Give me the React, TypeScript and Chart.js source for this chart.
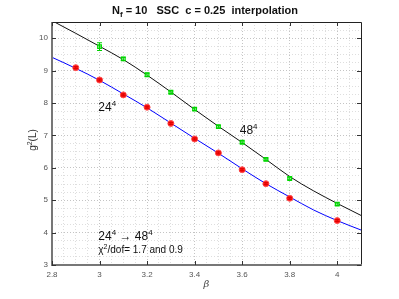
import React, { useEffect, useRef } from 'react';
import { Chart, registerables } from 'chart.js';
Chart.register(...registerables);

const betaRed = [2.9, 3.0, 3.1, 3.2, 3.3, 3.4, 3.5, 3.6, 3.7, 3.8, 4.0];
const g2Red = [9.09, 8.71, 8.25, 7.87, 7.37, 6.89, 6.46, 5.94, 5.51, 5.06, 4.37];
const errRed = [0.03, 0.03, 0.03, 0.03, 0.03, 0.03, 0.03, 0.03, 0.03, 0.03, 0.03];

const betaGreen = [3.0, 3.1, 3.2, 3.3, 3.4, 3.5, 3.6, 3.7, 3.8, 4.0];
const g2Green = [9.74, 9.36, 8.87, 8.33, 7.81, 7.27, 6.79, 6.26, 5.67, 4.88];
const errGreen = [0.12, 0.05, 0.05, 0.04, 0.04, 0.04, 0.04, 0.04, 0.04, 0.04];

const betaFit = [2.8, 2.9, 3.0, 3.1, 3.2, 3.3, 3.4, 3.5, 3.6, 3.7, 3.8, 3.9, 4.0, 4.1];
const fit24 = [9.41, 9.07, 8.7, 8.28, 7.85, 7.38, 6.91, 6.45, 5.97, 5.51, 5.1, 4.7, 4.37, 4.08];
const fit48 = [10.54, 10.15, 9.75, 9.34, 8.86, 8.34, 7.8, 7.28, 6.78, 6.26, 5.73, 5.29, 4.9, 4.53];

const xMajor = [2.8, 3.0, 3.2, 3.4, 3.6, 3.8, 4.0];
const yMajor = [3, 4, 5, 6, 7, 8, 9, 10];

const FONT = '"Liberation Sans", Arial, Helvetica, sans-serif';

type Part = { t: string; sup?: boolean; sub?: boolean };

function drawRich(ctx: CanvasRenderingContext2D, parts: Part[], x: number, y: number, size: number, weight: string, align: 'left' | 'center') {
  const small = Math.round(size * 0.7);
  const widths = parts.map((p) => {
    ctx.font = `${weight} ${p.sup || p.sub ? small : size}px ${FONT}`;
    return ctx.measureText(p.t).width;
  });
  const total = widths.reduce((a, b) => a + b, 0);
  let cx = align === 'center' ? x - total / 2 : x;
  ctx.textAlign = 'left';
  ctx.textBaseline = 'alphabetic';
  parts.forEach((p, i) => {
    ctx.font = `${weight} ${p.sup || p.sub ? small : size}px ${FONT}`;
    let dy = 0;
    if (p.sup) dy = -size * 0.45;
    if (p.sub) dy = size * 0.3;
    ctx.fillText(p.t, cx, y + dy);
    cx += widths[i];
  });
}

const isXMajor = (n: number) => Math.abs(n * 5 - Math.round(n * 5)) < 1e-6 && n < 4.05;
const isYMajor = (n: number) => Math.abs(n - Math.round(n)) < 1e-6;

const decorPlugin = {
  id: 'decor',
  afterDatasetsDraw(chart: any) {
    const ctx: CanvasRenderingContext2D = chart.ctx;
    const ys = chart.scales.y;
    chart.data.datasets.forEach((ds: any, di: number) => {
      if (!ds.errors) return;
      const meta = chart.getDatasetMeta(di);
      ctx.save();
      ctx.strokeStyle = ds.errColor;
      ctx.lineWidth = 1;
      meta.data.forEach((pt: any, i: number) => {
        const v = ds.data[i].y;
        const e = ds.errors[i];
        const yt = ys.getPixelForValue(v + e);
        const yb = ys.getPixelForValue(v - e);
        ctx.beginPath();
        ctx.moveTo(pt.x, yt);
        ctx.lineTo(pt.x, yb);
        ctx.moveTo(pt.x - 2.5, yt);
        ctx.lineTo(pt.x + 2.5, yt);
        ctx.moveTo(pt.x - 2.5, yb);
        ctx.lineTo(pt.x + 2.5, yb);
        ctx.stroke();
      });
      ctx.restore();
    });
  },
  afterDraw(chart: any) {
    const ctx: CanvasRenderingContext2D = chart.ctx;
    const xs = chart.scales.x;
    const ys = chart.scales.y;
    const { left, right, top, bottom } = chart.chartArea;
    ctx.save();
    ctx.strokeStyle = '#222';
    ctx.lineWidth = 1;
    ctx.beginPath();
    ctx.moveTo(left, top + 0.5);
    ctx.lineTo(right + 0.5, top + 0.5);
    ctx.lineTo(right + 0.5, bottom);
    ctx.stroke();
    ctx.strokeStyle = '#777';
    ctx.lineWidth = 2;
    ctx.beginPath();
    ctx.moveTo(left, top);
    ctx.lineTo(left, bottom);
    ctx.lineTo(right + 1, bottom);
    ctx.stroke();
    ctx.strokeStyle = '#333';
    ctx.lineWidth = 1;
    ctx.beginPath();
    xMajor.forEach((v) => {
      const px = Math.round(xs.getPixelForValue(v)) + 0.5;
      ctx.moveTo(px, bottom);
      ctx.lineTo(px, bottom - 4);
      ctx.moveTo(px, top);
      ctx.lineTo(px, top + 4);
    });
    yMajor.forEach((v) => {
      const py = Math.round(ys.getPixelForValue(v)) + 0.5;
      ctx.moveTo(left, py);
      ctx.lineTo(left + 4, py);
      ctx.moveTo(right, py);
      ctx.lineTo(right - 4, py);
    });
    ctx.stroke();

    ctx.fillStyle = '#111';
    drawRich(ctx, [{ t: 'N' }, { t: 'f', sub: true }, { t: ' = 10   SSC  c = 0.25  interpolation' }], 205, 14, 11, 'bold', 'center');

    ctx.save();
    ctx.translate(36, 140);
    ctx.rotate(-Math.PI / 2);
    ctx.fillStyle = '#333';
    drawRich(ctx, [{ t: 'g' }, { t: '2', sup: true }, { t: '(L)' }], 0, 0, 10, 'normal', 'center');
    ctx.restore();

    ctx.fillStyle = '#444';
    ctx.font = `italic 10px "DejaVu Serif", serif`;
    ctx.textAlign = 'center';
    ctx.textBaseline = 'alphabetic';
    ctx.fillText('β', (left + right) / 2, 287);

    ctx.fillStyle = '#111';
    drawRich(ctx, [{ t: '24' }, { t: '4', sup: true }], xs.getPixelForValue(2.995), ys.getPixelForValue(7.74), 12, 'normal', 'left');
    drawRich(ctx, [{ t: '48' }, { t: '4', sup: true }], xs.getPixelForValue(3.59), ys.getPixelForValue(7.03), 12, 'normal', 'left');
    drawRich(ctx, [{ t: '24' }, { t: '4', sup: true }, { t: ' \u2192 48' }, { t: '4', sup: true }], xs.getPixelForValue(2.995), ys.getPixelForValue(3.76), 12, 'normal', 'left');
    drawRich(ctx, [{ t: 'χ' }, { t: '2', sup: true }, { t: '/dof= 1.7 and 0.9' }], xs.getPixelForValue(2.995), ys.getPixelForValue(3.37), 10, 'normal', 'left');
    ctx.restore();
  },
};

export default function App() {
  const ref = useRef<HTMLCanvasElement | null>(null);
  useEffect(() => {
    document.body.style.margin = '0';
    const canvas = ref.current;
    if (!canvas) return;
    const chart = new Chart(canvas, {
      type: 'scatter',
      data: {
        datasets: [
          {
            type: 'scatter',
            label: '24^4',
            data: betaRed.map((b, i) => ({ x: b, y: g2Red[i] })),
            errors: errRed,
            errColor: '#dd0000',
            pointStyle: 'circle',
            pointRadius: 3,
            backgroundColor: '#ff1a1a',
            borderColor: '#ff5050',
            borderWidth: 1,
          } as any,
          {
            type: 'scatter',
            label: '48^4',
            data: betaGreen.map((b, i) => ({ x: b, y: g2Green[i] })),
            errors: errGreen,
            errColor: '#00d000',
            pointStyle: 'rect',
            pointRadius: 2.6,
            backgroundColor: 'rgba(170,255,170,0.6)',
            borderColor: '#00e000',
            borderWidth: 1.2,
          } as any,
          {
            type: 'line',
            label: 'fit24',
            data: betaFit.map((b, i) => ({ x: b, y: fit24[i] })),
            borderColor: '#0000ff',
            borderWidth: 1,
            pointRadius: 0,
            cubicInterpolationMode: 'monotone',
            fill: false,
          } as any,
          {
            type: 'line',
            label: 'fit48',
            data: betaFit.map((b, i) => ({ x: b, y: fit48[i] })),
            borderColor: '#111111',
            borderWidth: 1,
            pointRadius: 0,
            cubicInterpolationMode: 'monotone',
            fill: false,
          } as any,
        ],
      },
      options: {
        animation: false,
        responsive: false,
        events: [],
        layout: { padding: { left: 0, right: 38, top: 22, bottom: 0 } },
        plugins: { legend: { display: false }, tooltip: { enabled: false }, title: { display: false } },
        scales: {
          x: {
            type: 'linear',
            min: 2.8,
            max: 4.1,
            afterFit: (s: any) => {
              s.height = 34;
            },
            border: { display: false, dash: [1, 2] },
            grid: {
              color: (c: any) => (c.tick && isXMajor(Number(c.tick.value)) ? '#c4c4c4' : '#dedede'),
              lineWidth: 1,
              drawTicks: false,
            },
            ticks: {
              stepSize: 0.05,
              padding: 5,
              autoSkip: false,
              maxRotation: 0,
              color: '#555',
              font: { size: 8, family: FONT },
              callback: (v: any) => {
                const n = Number(v);
                return isXMajor(n) ? String(Math.round(n * 10) / 10) : '';
              },
            },
          },
          y: {
            type: 'linear',
            min: 3,
            max: 10.5,
            afterFit: (s: any) => {
              s.width = 52;
            },
            border: { display: false, dash: [1, 2] },
            grid: {
              color: (c: any) => (c.tick && isYMajor(Number(c.tick.value)) ? '#c4c4c4' : '#dedede'),
              lineWidth: 1,
              drawTicks: false,
            },
            ticks: {
              stepSize: 0.25,
              padding: 4,
              autoSkip: false,
              color: '#555',
              font: { size: 8, family: FONT },
              callback: (v: any) => {
                const n = Number(v);
                return isYMajor(n) ? String(Math.round(n)) : '';
              },
            },
          },
        },
      } as any,
      plugins: [decorPlugin],
    });
    return () => chart.destroy();
  }, []);
  return (
    <div style={{ width: 399, height: 299, background: '#fff' }}>
      <canvas ref={ref} width={399} height={299} style={{ width: 399, height: 299, display: 'block' }} />
    </div>
  );
}
